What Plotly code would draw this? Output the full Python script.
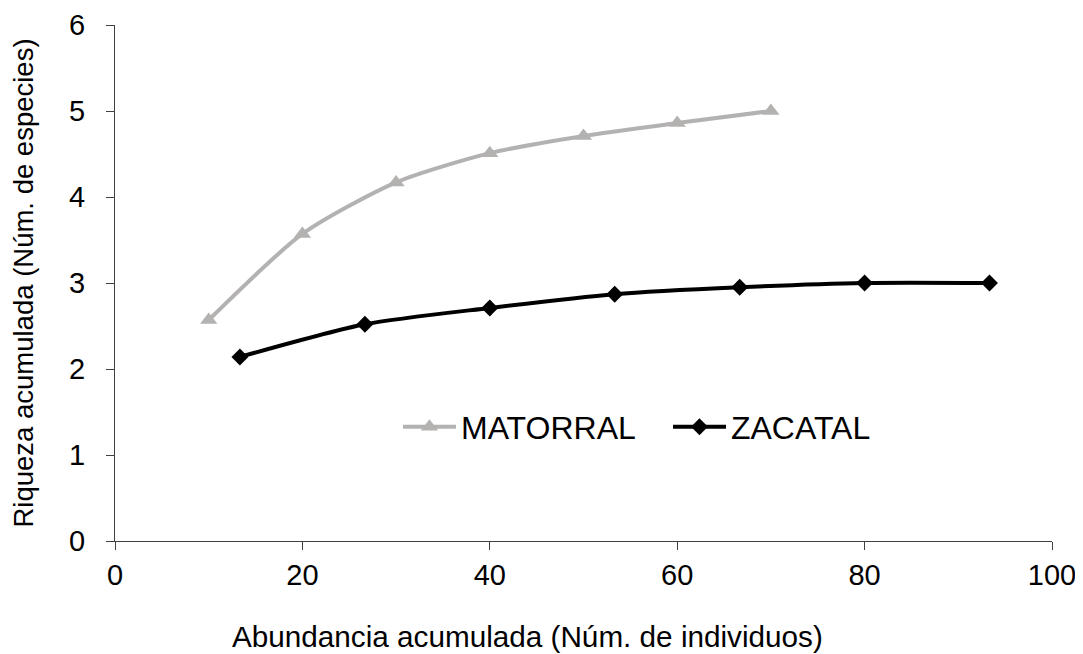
import plotly.graph_objects as go

mat_x = [10, 20, 30, 40, 50, 60, 70]
mat_y = [2.57, 3.57, 4.17, 4.51, 4.71, 4.86, 5.0]
zac_x = [13.33, 26.67, 40, 53.33, 66.67, 80, 93.33]
zac_y = [2.14, 2.52, 2.71, 2.87, 2.95, 3.0, 3.0]

GREY = "#b4b1b1"

fig = go.Figure()
fig.add_trace(go.Scatter(x=mat_x, y=mat_y, name="MATORRAL", mode="lines+markers",
                         line=dict(color=GREY, width=4, shape="spline", smoothing=0.7),
                         marker=dict(symbol="triangle-up", size=15, color=GREY)))
fig.add_trace(go.Scatter(x=zac_x, y=zac_y, name="ZACATAL", mode="lines+markers",
                         line=dict(color="black", width=4, shape="spline", smoothing=0.7),
                         marker=dict(symbol="diamond", size=13, color="black")))

# page body has an 8px margin, so the figure is shifted by 8px
fig.update_layout(
    width=1075, height=646,
    margin=dict(l=107, r=31, t=17, b=113, autoexpand=False),
    plot_bgcolor="white", paper_bgcolor="white",
    font=dict(family="Liberation Sans, Arial", color="black"),
    showlegend=True,
    legend=dict(x=0.302, y=0.221, xanchor="left", yanchor="middle", orientation="h",
                font=dict(size=32), bgcolor="rgba(0,0,0,0)", itemwidth=53,
                entrywidth=202, entrywidthmode="pixels"),
    xaxis=dict(range=[0, 100], tickvals=[0, 20, 40, 60, 80, 100], automargin=False,
               showline=True, linecolor="#404040", linewidth=1.3, ticks="outside",
               ticklen=8, tickcolor="#404040", tickwidth=1.3, showgrid=False, zeroline=False,
               tickfont=dict(size=29), ticklabelstandoff=0),
    yaxis=dict(range=[0, 6], tickvals=[0, 1, 2, 3, 4, 5, 6], automargin=False,
               showline=True, linecolor="#404040", linewidth=1.3, ticks="outside",
               ticklen=8, tickcolor="#404040", tickwidth=1.3, showgrid=False, zeroline=False,
               tickfont=dict(size=29), ticklabelstandoff=15,
               title=dict(text="Riqueza acumulada (Núm. de especies)",
                          font=dict(size=27.5), standoff=28)),
    annotations=[dict(text="Abundancia acumulada (Núm. de individuos)",
                      xref="paper", yref="paper", x=0.4402, y=-0.186,
                      xanchor="center", yanchor="middle", showarrow=False,
                      font=dict(size=29.7))],
)

fig.write_html("out.html")
